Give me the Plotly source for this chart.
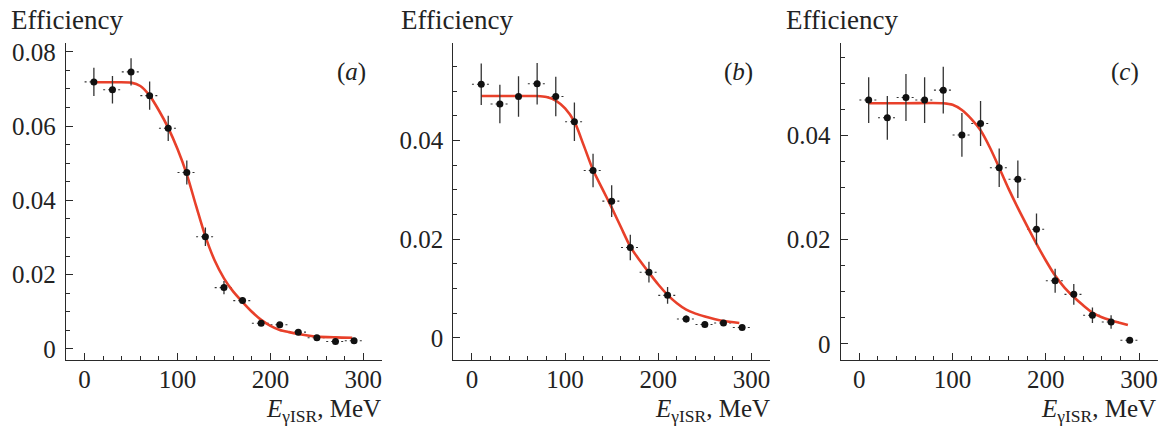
import plotly.graph_objects as go

# ---------------- data ----------------
energy = [10, 30, 50, 70, 90, 110, 130, 150, 170, 190, 210, 230, 250, 270, 290]
energy_halfwidth = [10, 10, 10, 10, 10, 10, 10, 10, 10, 10, 10, 10, 10, 10, 10]

eff_a = [0.0719, 0.0698, 0.0746, 0.0682, 0.0594, 0.0475, 0.0302, 0.0165, 0.0130,
         0.0069, 0.0065, 0.0045, 0.0030, 0.0020, 0.0022]
err_a = [0.0038, 0.0037, 0.0037, 0.0038, 0.0034, 0.0032, 0.0025, 0.0018, 0.0009,
         0.0007, 0.0007, 0.0006, 0.0005, 0.0005, 0.0005]

eff_b = [0.0514, 0.0474, 0.0489, 0.0515, 0.0489, 0.0438, 0.0339, 0.0277, 0.0183,
         0.0133, 0.0086, 0.0038, 0.0027, 0.0030, 0.0021]
err_b = [0.0042, 0.0039, 0.0041, 0.0042, 0.0040, 0.0039, 0.0034, 0.0032, 0.0026,
         0.0021, 0.0017, 0.0007, 0.0006, 0.0006, 0.0005]

eff_c = [0.0468, 0.0434, 0.0473, 0.0468, 0.0487, 0.0401, 0.0423, 0.0338, 0.0316,
         0.0220, 0.0121, 0.0095, 0.0055, 0.0042, 0.0007]
err_c = [0.0044, 0.0042, 0.0045, 0.0044, 0.0045, 0.0042, 0.0043, 0.0037, 0.0036,
         0.0030, 0.0023, 0.0020, 0.0015, 0.0013, 0.0005]

# fitted curves
fit_x_a = [10, 30, 50, 60, 70, 80, 90, 100, 110, 120, 130, 140, 150, 160, 170, 180,
           190, 200, 210, 220, 230, 240, 250, 270, 288]
fit_y_a = [0.0718, 0.0718, 0.0717, 0.0708, 0.0682, 0.0642, 0.0595, 0.0538, 0.0470,
           0.0385, 0.0303, 0.0238, 0.0190, 0.0154, 0.0126, 0.0100, 0.0078, 0.0062,
           0.0051, 0.0045, 0.0040, 0.0036, 0.0033, 0.0031, 0.0030]

fit_x_b = [10, 40, 70, 80, 90, 100, 110, 120, 130, 140, 150, 160, 170, 180, 190,
           200, 210, 220, 230, 240, 250, 260, 270, 287]
fit_y_b = [0.0490, 0.0490, 0.0490, 0.0488, 0.0481, 0.0465, 0.0438, 0.0390, 0.0340,
           0.0302, 0.0264, 0.0224, 0.0185, 0.0157, 0.0132, 0.0108, 0.0087, 0.0070,
           0.0057, 0.0049, 0.0043, 0.0038, 0.0034, 0.0030]

fit_x_c = [10, 50, 90, 100, 110, 120, 130, 140, 150, 160, 170, 180, 190, 200, 210,
           220, 230, 240, 250, 260, 270, 280, 288]
fit_y_c = [0.0462, 0.0462, 0.0462, 0.0459, 0.0449, 0.0432, 0.0410, 0.0377, 0.0338,
           0.0298, 0.0261, 0.0226, 0.0192, 0.0160, 0.0131, 0.0108, 0.0090, 0.0074,
           0.0060, 0.0051, 0.0045, 0.0040, 0.0036]

panel_labels = ["(<i>a</i>)", "(<i>b</i>)", "(<i>c</i>)"]
y_title = "Efficiency"
x_title = "<i>E</i><sub>γISR</sub>, MeV"

x_range = [-20, 320]
y_ranges = [[-0.003, 0.0823], [-0.0045, 0.0597], [-0.0031, 0.0577]]
x_domains = [[0.0568, 0.3287], [0.3901, 0.6627], [0.7235, 0.9963]]
y_domain = [0.1667, 0.8998]

# ---------------- figure ----------------
W, H = 1162, 432
FONT = "Liberation Serif"
AX = "#2a2a2a"
RED = "#e8402a"

fig = go.Figure()
panels = [(eff_a, err_a, fit_x_a, fit_y_a),
          (eff_b, err_b, fit_x_b, fit_y_b),
          (eff_c, err_c, fit_x_c, fit_y_c)]

for i, (eff, err, fx, fy) in enumerate(panels):
    xa = "x" if i == 0 else f"x{i+1}"
    ya = "y" if i == 0 else f"y{i+1}"
    # horizontal (bin width) bars, dashed
    hx, hy = [], []
    for x, hw, y in zip(energy, energy_halfwidth, eff):
        hx += [x - hw, x + hw, None]
        hy += [y, y, None]
    fig.add_trace(go.Scatter(x=hx, y=hy, mode="lines", xaxis=xa, yaxis=ya,
                             line=dict(color="#333333", width=1.1, dash="2px,3px"),
                             hoverinfo="skip", showlegend=False))
    # fit curve
    fig.add_trace(go.Scatter(x=fx, y=fy, mode="lines", xaxis=xa, yaxis=ya,
                             line=dict(color=RED, width=2.6, shape="spline", smoothing=0.8),
                             showlegend=False))
    # points with vertical errors
    fig.add_trace(go.Scatter(x=energy, y=eff, mode="markers", xaxis=xa, yaxis=ya,
                             marker=dict(color="#111111", size=7),
                             error_y=dict(type="data", array=err, visible=True,
                                          color="#333333", thickness=1.3, width=0),
                             showlegend=False))

axis_common = dict(showline=True, linecolor=AX, linewidth=1.3, showgrid=False,
                   zeroline=False, ticks="inside", tickcolor=AX, tickwidth=1.3,
                   automargin=False,
                   tickfont=dict(family=FONT, size=25, color="#222222"))

layout = dict(width=W, height=H, margin=dict(l=0, r=0, t=0, b=0, autoexpand=False),
              paper_bgcolor="white", plot_bgcolor="white", showlegend=False)

for i in range(3):
    xk = "xaxis" if i == 0 else f"xaxis{i+1}"
    yk = "yaxis" if i == 0 else f"yaxis{i+1}"
    ya = "y" if i == 0 else f"y{i+1}"
    xa = "x" if i == 0 else f"x{i+1}"
    layout[xk] = dict(axis_common, domain=x_domains[i], range=x_range, anchor=ya,
                      tickmode="linear", tick0=0, dtick=100, ticklen=7,
                      ticklabelstandoff=-3,
                      minor=dict(tick0=0, dtick=20, ticks="inside", ticklen=4,
                                 tickwidth=1.1, tickcolor=AX, showgrid=False))
    layout[yk] = dict(axis_common, domain=y_domain, range=y_ranges[i], anchor=xa,
                      tickmode="linear", tick0=0, dtick=0.02, ticklen=7,
                      ticklabelstandoff=4,
                      minor=dict(tick0=0, dtick=0.005, ticks="inside", ticklen=4,
                                 tickwidth=1.1, tickcolor=AX, showgrid=False))

fig.update_layout(**layout)

# text annotations
eff_left_px = [9, 399, 784]
label_right_px = [368, 755, 1141]
xtitle_right_px = [383, 772, 1158]
for i in range(3):
    fig.add_annotation(xref="paper", yref="paper", x=eff_left_px[i] / W, y=1 - 20 / H,
                       xanchor="left", yanchor="middle", text=y_title, showarrow=False,
                       font=dict(family=FONT, size=27, color="#222222"))
    fig.add_annotation(xref="paper", yref="paper", x=label_right_px[i] / W, y=1 - 72 / H,
                       xanchor="right", yanchor="middle", text=panel_labels[i],
                       showarrow=False, font=dict(family=FONT, size=25, color="#222222"))
    fig.add_annotation(xref="paper", yref="paper", x=xtitle_right_px[i] / W, y=1 - 410 / H,
                       xanchor="right", yanchor="middle", text=x_title, showarrow=False,
                       font=dict(family=FONT, size=25, color="#222222"))

fig.write_html("out.html", config={"displayModeBar": False},
               post_script="document.body.style.margin='0';document.body.style.overflow='hidden';")
